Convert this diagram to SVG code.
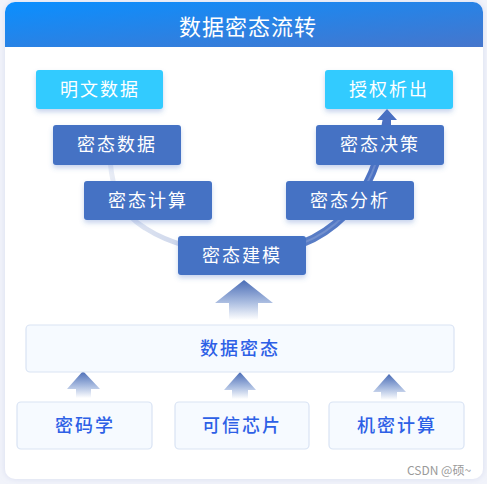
<svg xmlns="http://www.w3.org/2000/svg" width="487" height="484" viewBox="0 0 487 484">
<defs>
<linearGradient id="hdr" x1="0" y1="0" x2="1" y2="1">
<stop offset="0" stop-color="#0a8fff"/>
<stop offset="1" stop-color="#4676cc"/>
</linearGradient>
<linearGradient id="tube" gradientUnits="userSpaceOnUse" x1="110" y1="0" x2="390" y2="0">
<stop offset="0" stop-color="#e8ecf5"/>
<stop offset="0.35" stop-color="#c4cfe8"/>
<stop offset="0.7" stop-color="#5a7ec6"/>
<stop offset="1" stop-color="#4a70c2"/>
</linearGradient>
<linearGradient id="arr" x1="0" y1="0" x2="0" y2="1">
<stop offset="0" stop-color="#4a6cb6"/>
<stop offset="0.55" stop-color="#a9bce0"/>
<stop offset="1" stop-color="#ffffff"/>
</linearGradient>
<filter id="sh" x="-20%" y="-20%" width="140%" height="160%">
<feDropShadow dx="0" dy="3" stdDeviation="2.5" flood-color="#4472c4" flood-opacity="0.3"/>
</filter>
<filter id="cardsh" x="-5%" y="-5%" width="110%" height="110%">
<feDropShadow dx="0" dy="0" stdDeviation="3" flood-color="#aab4dd" flood-opacity="0.35"/>
</filter>
</defs>
<style>
text{font-family:"Noto Sans CJK SC","Noto Sans",sans-serif;text-anchor:middle}
.cyan{fill:#30cbff}
.blue{fill:#4472c4}
.nt{fill:#ffffff;font-size:18px;letter-spacing:2px}
.lb{fill:#f6faff;stroke:#d9e3f4;stroke-width:1.2}
.lt{fill:#2d60e6;font-size:18px;letter-spacing:2px;font-weight:500}
.ar{fill:url(#arr)}
</style>
<rect width="487" height="484" fill="#f1f3fa"/>
<rect x="5" y="2" width="478" height="477" rx="10" fill="#ffffff" filter="url(#cardsh)"/>
<path d="M5 47 V12 A10 10 0 0 1 15 2 H473 A10 10 0 0 1 483 12 V47 Z" fill="url(#hdr)"/>
<text x="248" y="35" fill="#ffffff" font-size="22" letter-spacing="1">数据密态流转</text>

<g id="connectors">
<path d="M110 160 C113 195 122 214 145 228 C170 244 200 252 243 253" fill="none" stroke="url(#tube)" stroke-width="5" stroke-linecap="round"/>
<path d="M243 253 C290 253 320 240 345 215 C368 190 380 160 387 118" fill="none" stroke="url(#tube)" stroke-width="8"/>
<path d="M243 253 C290 253 320 240 345 215 C368 190 380 160 387 118" fill="none" stroke="#8ea6d8" stroke-opacity="0.5" stroke-width="2"/>
<polygon points="387,109 397,120 391,120 391,126 383,126 383,120 377,120" fill="#4a70c2"/>
<polygon id="bigArrow" class="ar" points="244,280 273,303 258,303 258,320 229,320 229,303 215,303"/>
<polygon class="ar" points="83,371 100,389 91,389 91,398 76,398 76,389 67,389"/>
<polygon class="ar" points="240,372 256,390 248,390 248,399 232,399 232,390 224,390"/>
<polygon class="ar" points="389,374 406,392 397,392 397,400 381,400 381,392 373,392"/>
</g>

<g id="n-mingwen"><rect x="36" y="70" width="127" height="39" rx="3" class="cyan" filter="url(#sh)"/><text x="100" y="96" class="nt">明文数据</text></g>
<g id="n-shouquan"><rect x="325" y="70" width="128" height="39" rx="3" class="cyan" filter="url(#sh)"/><text x="389" y="96" class="nt">授权析出</text></g>
<g id="n-mtsj"><rect x="53" y="125" width="128" height="40" rx="3" class="blue" filter="url(#sh)"/><text x="117" y="151" class="nt">密态数据</text></g>
<g id="n-mtjc"><rect x="316" y="125" width="128" height="40" rx="3" class="blue" filter="url(#sh)"/><text x="380" y="151" class="nt">密态决策</text></g>
<g id="n-mtjs"><rect x="84" y="181" width="128" height="39" rx="3" class="blue" filter="url(#sh)"/><text x="148" y="207" class="nt">密态计算</text></g>
<g id="n-mtfx"><rect x="286" y="181" width="128" height="39" rx="3" class="blue" filter="url(#sh)"/><text x="350" y="207" class="nt">密态分析</text></g>
<g id="n-mtjm"><rect x="178" y="236" width="128" height="39" rx="3" class="blue" filter="url(#sh)"/><text x="242" y="262" class="nt">密态建模</text></g>

<g id="n-sjmt"><rect x="26" y="325" width="428" height="47" rx="4" class="lb"/><text x="240" y="355" class="lt">数据密态</text></g>
<g id="n-mmx"><rect x="17" y="402" width="135" height="47" rx="4" class="lb"/><text x="85" y="432" class="lt">密码学</text></g>
<g id="n-kxxp"><rect x="175" y="402" width="134" height="47" rx="4" class="lb"/><text x="242" y="432" class="lt">可信芯片</text></g>
<g id="n-jmjs"><rect x="329" y="402" width="135" height="47" rx="4" class="lb"/><text x="397" y="432" class="lt">机密计算</text></g>

<text x="439" y="475" fill="#9a9a9a" font-size="12">CSDN @硕~</text>
</svg>
